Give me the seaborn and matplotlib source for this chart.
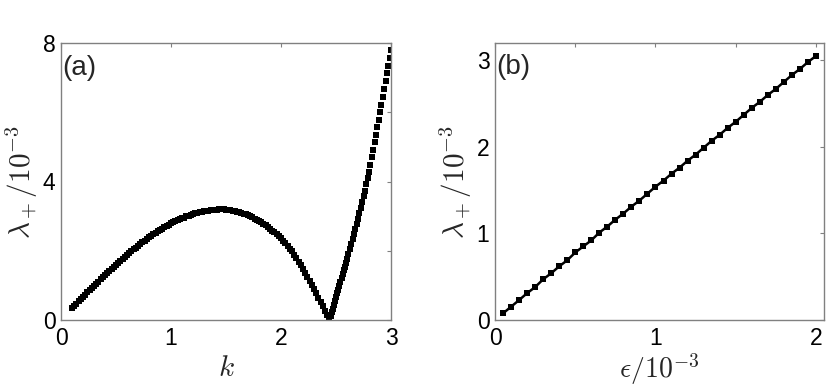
import matplotlib
matplotlib.use("Agg")
import matplotlib.pyplot as plt
import seaborn as sns
import pandas as pd

# ---- panel (a): growth rate vs wavenumber k ----
k_vals = [
    0.10, 0.12, 0.14, 0.16, 0.18, 0.20, 0.22, 0.24, 0.26, 0.28,
    0.30, 0.32, 0.34, 0.36, 0.38, 0.40, 0.42, 0.44, 0.46, 0.48,
    0.50, 0.52, 0.54, 0.56, 0.58, 0.60, 0.62, 0.64, 0.66, 0.68,
    0.70, 0.72, 0.74, 0.76, 0.78, 0.80, 0.82, 0.84, 0.86, 0.88,
    0.90, 0.92, 0.94, 0.96, 0.98, 1.00, 1.02, 1.04, 1.06, 1.08,
    1.10, 1.12, 1.14, 1.16, 1.18, 1.20, 1.22, 1.24, 1.26, 1.28,
    1.30, 1.32, 1.34, 1.36, 1.38, 1.40, 1.42, 1.44, 1.46, 1.48,
    1.50, 1.52, 1.54, 1.56, 1.58, 1.60, 1.62, 1.64, 1.66, 1.68,
    1.70, 1.72, 1.74, 1.76, 1.78, 1.80, 1.82, 1.84, 1.86, 1.88,
    1.90, 1.92, 1.94, 1.96, 1.98, 2.00, 2.02, 2.04, 2.06, 2.08,
    2.10, 2.12, 2.14, 2.16, 2.18, 2.20, 2.22, 2.24, 2.26, 2.28,
    2.30, 2.32, 2.34, 2.36, 2.38, 2.40, 2.42, 2.44,
    2.45, 2.46, 2.47, 2.48, 2.49, 2.50, 2.51, 2.52, 2.53, 2.54,
    2.55, 2.56, 2.57, 2.58, 2.59, 2.60,
    2.6125, 2.625, 2.6375, 2.65, 2.6625, 2.675, 2.6875, 2.70,
    2.7125, 2.725, 2.7375, 2.75, 2.7625, 2.775, 2.7875, 2.80,
    2.8125, 2.825, 2.8375, 2.85, 2.8625, 2.875, 2.8875, 2.90,
    2.9125, 2.925, 2.9375, 2.95, 2.9625, 2.975, 2.9875, 3.00,
]
lam_k = [
    0.34, 0.41, 0.47, 0.54, 0.60, 0.67, 0.73, 0.80, 0.86, 0.93,
    0.99, 1.05, 1.11, 1.18, 1.24, 1.30, 1.36, 1.42, 1.48, 1.54,
    1.60, 1.66, 1.71, 1.77, 1.82, 1.88, 1.93, 1.98, 2.04, 2.09,
    2.15, 2.20, 2.24, 2.29, 2.34, 2.39, 2.43, 2.47, 2.52, 2.56,
    2.60, 2.64, 2.68, 2.71, 2.75, 2.79, 2.82, 2.85, 2.88, 2.91,
    2.94, 2.96, 2.99, 3.01, 3.04, 3.06, 3.08, 3.09, 3.11, 3.12,
    3.14, 3.15, 3.16, 3.17, 3.18, 3.19, 3.19, 3.20, 3.20, 3.20,
    3.19, 3.18, 3.17, 3.16, 3.15, 3.13, 3.11, 3.09, 3.07, 3.05,
    3.03, 3.00, 2.97, 2.93, 2.90, 2.87, 2.82, 2.78, 2.73, 2.69,
    2.64, 2.58, 2.53, 2.47, 2.42, 2.36, 2.29, 2.21, 2.14, 2.06,
    1.99, 1.89, 1.79, 1.68, 1.58, 1.48, 1.36, 1.24, 1.13, 1.01,
    0.89, 0.77, 0.64, 0.52, 0.39, 0.27, 0.13, 0.00,
    0.11, 0.22, 0.33, 0.44, 0.55, 0.66, 0.77, 0.88, 0.99, 1.10,
    1.21, 1.32, 1.43, 1.54, 1.65, 1.76,
    1.90, 2.05, 2.19, 2.34, 2.48, 2.63, 2.77, 2.92,
    3.08, 3.24, 3.40, 3.57, 3.74, 3.92, 4.10, 4.28,
    4.49, 4.70, 4.91, 5.13, 5.35, 5.56, 5.78, 6.00,
    6.22, 6.45, 6.67, 6.90, 7.12, 7.35, 7.57, 7.80,
]

# ---- panel (b): growth rate vs epsilon ----
eps_vals = [
    0.05, 0.10, 0.15, 0.20, 0.25, 0.30, 0.35, 0.40, 0.45, 0.50,
    0.55, 0.60, 0.65, 0.70, 0.75, 0.80, 0.85, 0.90, 0.95, 1.00,
    1.05, 1.10, 1.15, 1.20, 1.25, 1.30, 1.35, 1.40, 1.45, 1.50,
    1.55, 1.60, 1.65, 1.70, 1.75, 1.80, 1.85, 1.90, 1.95, 2.00,
]
lam_eps = [
    0.077, 0.153, 0.23, 0.31, 0.38, 0.47, 0.54, 0.62, 0.69, 0.78,
    0.85, 0.92, 1.01, 1.08, 1.16, 1.23, 1.31, 1.38, 1.46, 1.54,
    1.61, 1.69, 1.76, 1.84, 1.91, 1.99, 2.07, 2.14, 2.22, 2.29,
    2.37, 2.45, 2.52, 2.60, 2.67, 2.75, 2.83, 2.90, 2.98, 3.05,
]

a_xticks = [0, 1, 2, 3]
a_yticks = [0, 2, 4, 6, 8]
a_yticklabels = ["0", "", "4", "", "8"]
b_xticks = [0, 0.5, 1, 1.5, 2]
b_xticklabels = ["0", "", "1", "", "2"]
b_yticks = [0, 1, 2, 3]
b_yticklabels = ["0", "1", "2", "3"]

sns.set_theme(style="white")
plt.rcParams["font.family"] = ["Liberation Sans", "DejaVu Sans"]
plt.rcParams["mathtext.fontset"] = "cm"

df_a = pd.DataFrame({"k": k_vals, "lam": lam_k})
df_b = pd.DataFrame({"eps": eps_vals, "lam": lam_eps})

fig = plt.figure(figsize=(8.3, 3.9), dpi=100)
ax1 = fig.add_axes([61 / 830, 70 / 390, 330 / 830, 277 / 390])
ax2 = fig.add_axes([495 / 830, 70 / 390, 329 / 830, 277 / 390])

sns.scatterplot(data=df_a, x="k", y="lam", ax=ax1, marker="s", s=25,
                color="black", linewidth=0, legend=False)
sns.lineplot(data=df_b, x="eps", y="lam", ax=ax2, color="black",
             marker="s", markersize=4.6, markeredgewidth=0, linewidth=1.8,
             legend=False)

frame_col = "#808080"
for ax in (ax1, ax2):
    for sp in ax.spines.values():
        sp.set_color(frame_col)
        sp.set_linewidth(1.0)
    ax.tick_params(direction="in", top=True, right=True, length=3,
                   width=0.8, color=frame_col, labelsize=16.5,
                   labelcolor="black")
    ax.tick_params(axis="x", pad=5)
    ax.tick_params(axis="y", pad=4)

ax1.set_xlim(0, 3)
ax1.set_ylim(0, 8)
ax1.set_xticks(a_xticks)
ax1.set_yticks(a_yticks)
ax1.set_yticklabels(a_yticklabels)
ax1.set_xlabel(r"$k$", fontsize=21, labelpad=3)
ax1.set_ylabel(r"$\lambda_+/10^{-3}$", fontsize=21, labelpad=2)
ax1.text(0.003, 0.91, "(a)", transform=ax1.transAxes, fontsize=20,
         va="center", ha="left")

ax2.set_xlim(0, 2.05)
ax2.set_ylim(0, 3.2)
ax2.set_xticks(b_xticks)
ax2.set_xticklabels(b_xticklabels)
ax2.set_yticks(b_yticks)
ax2.set_yticklabels(b_yticklabels)
ax2.set_xlabel(r"$\epsilon/10^{-3}$", fontsize=20, labelpad=1)
ax2.set_ylabel(r"$\lambda_+/10^{-3}$", fontsize=21, labelpad=2)
ax2.text(0.003, 0.915, "(b)", transform=ax2.transAxes, fontsize=20,
         va="center", ha="left")

fig.savefig("out.png", dpi=100)
